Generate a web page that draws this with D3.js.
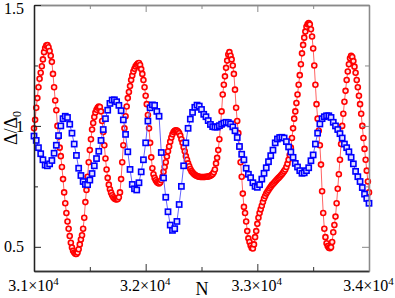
<!DOCTYPE html>
<html>
<head>
<meta charset="utf-8">
<script src="https://cdn.jsdelivr.net/npm/d3@7"></script>
<style>
  html, body { margin: 0; padding: 0; background: #fff; }
  svg { display: block; }
  text { font-family: "Liberation Serif", "Times New Roman", serif; fill: #000; }
</style>
</head>
<body>
<div id="chart"></div>
<script>
// red circles: one point every 10 in N, from 3.1e4 to 3.4e4
const redStart = 31000, redStep = 10;
const redValues = [
  0.99, 1.025, 1.075, 1.115, 1.16, 1.195, 1.22, 1.247, 1.275, 1.305,
  1.322, 1.332, 1.334, 1.325, 1.31, 1.29, 1.265, 1.215, 1.16, 1.105,
  1.065, 1.0, 0.955, 0.91, 0.875, 0.83, 0.78, 0.725, 0.68, 0.64,
  0.605, 0.575, 0.545, 0.517, 0.497, 0.484, 0.476, 0.471, 0.47, 0.476,
  0.49, 0.51, 0.53, 0.548, 0.575, 0.62, 0.685, 0.735, 0.79, 0.85,
  0.9, 0.945, 0.985, 1.012, 1.037, 1.055, 1.067, 1.075, 1.08, 1.078,
  1.06, 1.02, 0.975, 0.92, 0.865, 0.82, 0.785, 0.757, 0.738, 0.724,
  0.713, 0.705, 0.70, 0.697, 0.696, 0.698, 0.705, 0.725, 0.78, 0.85,
  0.92, 0.99, 1.04, 1.08, 1.115, 1.14, 1.165, 1.19, 1.208, 1.225,
  1.236, 1.246, 1.253, 1.258, 1.26, 1.252, 1.235, 1.215, 1.19, 1.16,
  1.125, 1.09, 1.045, 0.99, 0.93, 0.87, 0.825, 0.80, 0.785, 0.775,
  0.768, 0.764, 0.762, 0.766, 0.775, 0.79, 0.81, 0.83, 0.85, 0.873,
  0.895, 0.915, 0.935, 0.952, 0.965, 0.975, 0.98, 0.982, 0.981, 0.977,
  0.97, 0.96, 0.945, 0.93, 0.912, 0.895, 0.875, 0.86, 0.845, 0.833,
  0.822, 0.813, 0.807, 0.802, 0.798, 0.795, 0.793, 0.791, 0.79, 0.789,
  0.789, 0.789, 0.789, 0.789, 0.79, 0.79, 0.791, 0.792, 0.794, 0.797,
  0.801, 0.808, 0.82, 0.845, 0.868, 0.90, 0.945, 1.0, 1.06, 1.13,
  1.17, 1.205, 1.24, 1.27, 1.295, 1.305, 1.29, 1.275, 1.25, 1.215,
  1.15, 1.075, 1.02, 0.97, 0.915, 0.85, 0.79, 0.72, 0.665, 0.64,
  0.605, 0.565, 0.535, 0.52, 0.505, 0.495, 0.493, 0.51, 0.54, 0.565,
  0.595, 0.62, 0.64, 0.655, 0.67, 0.685, 0.70, 0.71, 0.72, 0.728,
  0.735, 0.742, 0.748, 0.755, 0.76, 0.765, 0.77, 0.775, 0.78, 0.785,
  0.79, 0.795, 0.80, 0.806, 0.813, 0.82, 0.83, 0.843, 0.86, 0.88,
  0.91, 0.95, 0.99, 1.03, 1.06, 1.095, 1.13, 1.17, 1.21, 1.255,
  1.30, 1.335, 1.365, 1.39, 1.41, 1.42, 1.425, 1.42, 1.40, 1.37,
  1.32, 1.25, 1.17, 1.09, 1.03, 0.98, 0.92, 0.84, 0.73, 0.64,
  0.575, 0.54, 0.515, 0.503, 0.496, 0.494, 0.498, 0.52, 0.56, 0.59,
  0.625, 0.68, 0.74, 0.80, 0.86, 0.925, 1.0, 1.05, 1.1, 1.145,
  1.19, 1.225, 1.255, 1.28, 1.29, 1.285, 1.268, 1.245, 1.22, 1.19,
  1.16, 1.125, 1.09, 1.05, 1.0, 0.95, 0.905, 0.86, 0.815, 0.77, 0.725
];

// blue squares: one point every 20 in N
const blueStart = 31000, blueStep = 20;
const blueValues = [
  0.958, 0.94, 0.91, 0.885, 0.86, 0.838, 0.835, 0.843, 0.857, 0.887,
  0.92, 0.96, 1.0, 1.03, 1.04, 1.035, 1.007, 0.97, 0.925, 0.878,
  0.825, 0.795, 0.77, 0.758, 0.757, 0.776, 0.803, 0.835, 0.865, 0.895,
  0.94, 0.985, 1.03, 1.065, 1.093, 1.107, 1.108, 1.1, 1.085, 1.063,
  1.025, 0.965, 0.893, 0.82, 0.758, 0.74, 0.735, 0.765, 0.81, 0.86,
  0.93, 1.02, 1.075, 1.087, 1.085, 1.06, 1.04, 0.89, 0.785, 0.705,
  0.645, 0.59, 0.568, 0.575, 0.605, 0.675, 0.75, 0.835, 0.93, 0.99,
  1.028, 1.056, 1.077, 1.086, 1.082, 1.068, 1.048, 1.038, 1.022, 1.006,
  0.997, 0.995, 0.995, 1.001, 1.007, 1.012, 1.015, 1.014, 1.008, 0.996,
  0.98, 0.952, 0.915, 0.883, 0.86, 0.825, 0.80, 0.786, 0.765, 0.75,
  0.746, 0.757, 0.78, 0.804, 0.827, 0.852, 0.877, 0.90, 0.93, 0.946,
  0.952, 0.953, 0.95, 0.935, 0.913, 0.892, 0.87, 0.845, 0.83, 0.815,
  0.804, 0.806, 0.815, 0.827, 0.856, 0.88, 0.925, 0.97, 1.008, 1.03,
  1.038, 1.042, 1.042, 1.035, 1.015, 1.0, 0.985, 0.968, 0.95, 0.925,
  0.91, 0.893, 0.87, 0.843, 0.812, 0.79, 0.77, 0.745, 0.718, 0.70, 0.68
];

const xMajor = [31000, 32000, 33000, 34000];
const xMinor = [31500, 32500, 33500];
const yMajor = [0.5, 1, 1.5];
const yMinor = [0.75, 1.25];

const W = 395, H = 298;
const margin = { top: 5, right: 26, bottom: 27, left: 34 };
const width = W - margin.left - margin.right;
const height = H - margin.top - margin.bottom;

const svg = d3.select('#chart').append('svg')
  .attr('width', W).attr('height', H);
const g = svg.append('g')
  .attr('transform', `translate(${margin.left},${margin.top})`);

const x = d3.scaleLinear().domain([31000, 34000]).range([0, width]);
const y = d3.scaleLinear().domain([0.4, 1.5]).range([height, 0]);

const red = redValues.map((v, i) => ({ n: redStart + i * redStep, v }));
const blue = blueValues.map((v, i) => ({ n: blueStart + i * blueStep, v }));

const line = d3.line().x(d => x(d.n)).y(d => y(d.v));

// red series
g.append('path').datum(red)
  .attr('fill', 'none').attr('stroke', '#ff6464').attr('stroke-width', 1)
  .attr('d', line);
g.selectAll('.rc').data(red).enter().append('circle')
  .attr('class', 'rc')
  .attr('cx', d => x(d.n)).attr('cy', d => y(d.v)).attr('r', 2.5)
  .attr('fill', '#ffe0e0').attr('stroke', '#ff0000').attr('stroke-width', 1.6);

// blue series
g.append('path').datum(blue)
  .attr('fill', 'none').attr('stroke', '#6464ff').attr('stroke-width', 1)
  .attr('d', line);
g.selectAll('.bs').data(blue).enter().append('rect')
  .attr('class', 'bs')
  .attr('x', d => x(d.n) - 2.6).attr('y', d => y(d.v) - 2.6)
  .attr('width', 5.2).attr('height', 5.2)
  .attr('fill', '#e0e0ff').attr('stroke', '#0000ff').attr('stroke-width', 1.6);

// axes, ticks inward
function styleAxis(sel, col) {
  sel.select('.domain').attr('stroke', col).attr('stroke-width', 1.3);
  sel.selectAll('.tick line').attr('stroke', col).attr('stroke-width', 1);
}

const gBottom = g.append('g').attr('transform', `translate(0,${height})`)
  .call(d3.axisBottom(x).tickValues(xMajor).tickSizeInner(-7).tickSizeOuter(0).tickPadding(14).tickFormat(''));
styleAxis(gBottom, '#333');
gBottom.selectAll('.tick text').each(function(d) {
  const t = d3.select(this)
    .attr('font-size', 16).attr('fill', '#000').attr('dy', '0.35em').attr('dx', '-1');
  t.append('tspan').text((d / 1e4).toFixed(1) + '×10');
  t.append('tspan').attr('dy', '-6').attr('font-size', 11).text('4');
});
const gBottomMinor = g.append('g').attr('transform', `translate(0,${height})`)
  .call(d3.axisBottom(x).tickValues(xMinor).tickSizeInner(-4).tickSizeOuter(0).tickFormat(''));
styleAxis(gBottomMinor, '#333');

const gTop = g.append('g')
  .call(d3.axisTop(x).tickValues(xMajor).tickSizeInner(-7).tickSizeOuter(0).tickFormat(''));
styleAxis(gTop, '#8a8a8a');
const gTopMinor = g.append('g')
  .call(d3.axisTop(x).tickValues(xMinor).tickSizeInner(-4).tickSizeOuter(0).tickFormat(''));
styleAxis(gTopMinor, '#8a8a8a');

const gLeft = g.append('g')
  .call(d3.axisLeft(y).tickValues(yMajor).tickSizeInner(-7).tickSizeOuter(0).tickPadding(10)
    .tickFormat(d => d === 1 ? '1' : d3.format('.1f')(d)));
styleAxis(gLeft, '#222');
gLeft.selectAll('.tick text').attr('font-size', 16).attr('fill', '#000')
  .attr('dy', d => d === 1.5 ? '0.55em' : '0.32em');
const gLeftMinor = g.append('g')
  .call(d3.axisLeft(y).tickValues(yMinor).tickSizeInner(-4).tickSizeOuter(0).tickFormat(''));
styleAxis(gLeftMinor, '#222');

const gRight = g.append('g').attr('transform', `translate(${width},0)`)
  .call(d3.axisRight(y).tickValues(yMajor).tickSizeInner(-7).tickSizeOuter(0).tickFormat(''));
styleAxis(gRight, '#8a8a8a');
const gRightMinor = g.append('g').attr('transform', `translate(${width},0)`)
  .call(d3.axisRight(y).tickValues(yMinor).tickSizeInner(-4).tickSizeOuter(0).tickFormat(''));
styleAxis(gRightMinor, '#8a8a8a');

// axis titles
svg.append('text')
  .attr('x', 202).attr('y', 295)
  .attr('text-anchor', 'middle').attr('font-size', 18)
  .text('N');

const yl = svg.append('text')
  .attr('transform', 'translate(17,128) rotate(-90)')
  .attr('text-anchor', 'middle').attr('font-size', 18);
yl.append('tspan').text('Δ/Δ');
yl.append('tspan').attr('dy', 4).attr('font-size', 12).text('0');
</script>
</body>
</html>
